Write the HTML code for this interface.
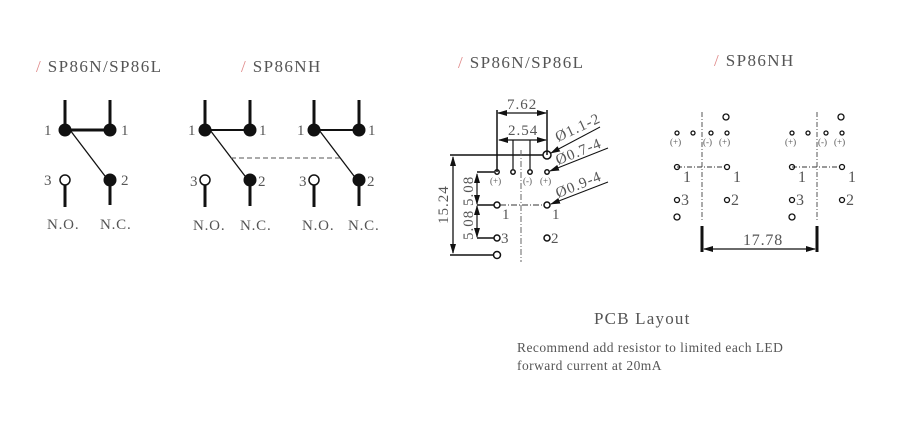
<!DOCTYPE html>
<html><head><meta charset="utf-8"><style>
html,body{margin:0;padding:0;background:#fff;}
svg{display:block;}
text{font-family:"Liberation Serif",serif;fill:#555;}
</style></head><body>
<svg width="900" height="433" viewBox="0 0 900 433" xmlns="http://www.w3.org/2000/svg">
<defs>
<marker id="ar" markerWidth="10" markerHeight="6" refX="9" refY="3" orient="auto-start-reverse" markerUnits="userSpaceOnUse"><path d="M0,0 L10,3 L0,6 z" fill="#111"/></marker>
</defs>
<!-- Titles -->
<g font-size="17" letter-spacing="1.4">
<text x="36" y="72"><tspan fill="#e08a8a">/ </tspan>SP86N/SP86L</text>
<text x="241" y="72"><tspan fill="#e08a8a">/ </tspan>SP86NH</text>
<text x="458" y="68"><tspan fill="#e08a8a">/ </tspan>SP86N/SP86L</text>
<text x="714" y="66"><tspan fill="#e08a8a">/ </tspan>SP86NH</text>
</g>

<!-- Left schematic -->
<g stroke="#111" fill="#111">
<line x1="65" y1="100" x2="65" y2="130" stroke-width="3"/>
<line x1="110" y1="100" x2="110" y2="130" stroke-width="3"/>
<line x1="65" y1="130" x2="110" y2="130" stroke-width="3"/>
<line x1="70" y1="130" x2="108" y2="180" stroke-width="1.3"/>
<circle cx="65" cy="130" r="6"/><circle cx="110" cy="130" r="6"/>
<circle cx="110" cy="180" r="6"/>
<line x1="110" y1="180" x2="110" y2="205" stroke-width="3"/>
<circle cx="65" cy="180" r="5" fill="#fff" stroke-width="1.5"/>
<line x1="65" y1="185" x2="65" y2="207" stroke-width="3"/>
</g>
<g font-size="15" letter-spacing="0.8">
<text x="44" y="135">1</text><text x="121" y="135">1</text>
<text x="44" y="185">3</text><text x="121" y="185">2</text>
<text x="47" y="229">N.O.</text><text x="100" y="229">N.C.</text>
</g>

<!-- SP86NH schematic -->
<g stroke="#111" fill="#111">
<g>
<line x1="205" y1="100" x2="205" y2="130" stroke-width="3"/>
<line x1="250" y1="100" x2="250" y2="130" stroke-width="3"/>
<line x1="205" y1="130" x2="250" y2="130" stroke-width="2"/>
<line x1="210" y1="130" x2="248" y2="180" stroke-width="1.3"/>
<circle cx="205" cy="130" r="6"/><circle cx="250" cy="130" r="6"/>
<circle cx="250" cy="180" r="6"/>
<line x1="250" y1="180" x2="250" y2="206" stroke-width="3"/>
<circle cx="205" cy="180" r="5" fill="#fff" stroke-width="1.5"/>
<line x1="205" y1="185" x2="205" y2="207" stroke-width="3"/>
</g>
<g transform="translate(109,0)">
<line x1="205" y1="100" x2="205" y2="130" stroke-width="3"/>
<line x1="250" y1="100" x2="250" y2="130" stroke-width="3"/>
<line x1="205" y1="130" x2="250" y2="130" stroke-width="2"/>
<line x1="210" y1="130" x2="248" y2="180" stroke-width="1.3"/>
<circle cx="205" cy="130" r="6"/><circle cx="250" cy="130" r="6"/>
<circle cx="250" cy="180" r="6"/>
<line x1="250" y1="180" x2="250" y2="206" stroke-width="3"/>
<circle cx="205" cy="180" r="5" fill="#fff" stroke-width="1.5"/>
<line x1="205" y1="185" x2="205" y2="207" stroke-width="3"/>
</g>
<line x1="231" y1="158" x2="340" y2="158" stroke-width="1" stroke="#555" stroke-dasharray="5,3"/>
</g>
<g font-size="15" letter-spacing="0.8">
<text x="188" y="135">1</text><text x="259" y="135">1</text>
<text x="297" y="135">1</text><text x="368" y="135">1</text>
<text x="190" y="186">3</text><text x="258" y="186">2</text>
<text x="299" y="186">3</text><text x="367" y="186">2</text>
<text x="193" y="230">N.O.</text><text x="240" y="230">N.C.</text>
<text x="302" y="230">N.O.</text><text x="348" y="230">N.C.</text>
</g>

<!-- PCB layout left -->
<g stroke="#111" fill="none" stroke-width="1.5">
<line x1="497" y1="110" x2="497" y2="172"/>
<line x1="547" y1="110" x2="547" y2="155"/>
<line x1="498" y1="113" x2="546" y2="113" marker-start="url(#ar)" marker-end="url(#ar)" stroke-width="1.2"/>
<line x1="499" y1="140" x2="546" y2="140" marker-start="url(#ar)" marker-end="url(#ar)" stroke-width="1.2"/>
<line x1="513" y1="140" x2="513" y2="169" stroke-width="1.2"/>
<line x1="530" y1="140" x2="530" y2="169" stroke-width="1.2"/>
<line x1="450" y1="155" x2="543" y2="155"/>
<line x1="450" y1="255" x2="493" y2="255"/>
<line x1="453" y1="157" x2="453" y2="253" marker-start="url(#ar)" marker-end="url(#ar)" stroke-width="1.3"/>
<line x1="477" y1="172" x2="494" y2="172"/>
<line x1="477" y1="205" x2="494" y2="205"/>
<line x1="477" y1="238" x2="494" y2="238"/>
<line x1="477" y1="174" x2="477" y2="204" marker-start="url(#ar)" marker-end="url(#ar)" stroke-width="1.2"/>
<line x1="477" y1="206" x2="477" y2="237" marker-start="url(#ar)" marker-end="url(#ar)" stroke-width="1.2"/>
<line x1="521" y1="150" x2="521" y2="262" stroke="#666" stroke-width="1" stroke-dasharray="6,2,1,2"/>
<line x1="500" y1="205" x2="544" y2="205" stroke="#333" stroke-width="1" stroke-dasharray="6,2,1,2"/>
<circle cx="547" cy="155" r="4"/>
<circle cx="497" cy="172" r="2.2"/><circle cx="513" cy="172" r="2.2"/>
<circle cx="530" cy="172" r="2.2"/><circle cx="547" cy="172" r="2.2"/>
<circle cx="497" cy="205" r="3"/><circle cx="547" cy="205" r="3"/>
<circle cx="497" cy="238" r="3"/><circle cx="547" cy="238" r="3"/>
<circle cx="497" cy="255" r="3.5"/>
<line x1="600" y1="127" x2="551" y2="153" marker-end="url(#ar)" stroke-width="1"/>
<line x1="608" y1="148" x2="550" y2="171" marker-end="url(#ar)" stroke-width="1"/>
<line x1="608" y1="182" x2="551" y2="204" marker-end="url(#ar)" stroke-width="1"/>
</g>
<g font-size="15" letter-spacing="1">
<text x="507" y="109">7.62</text>
<text x="508" y="135">2.54</text>
<text transform="translate(558,142) rotate(-25)">Ø1.1-2</text>
<text transform="translate(558,165) rotate(-22)">Ø0.7-4</text>
<text transform="translate(558,198) rotate(-22)">Ø0.9-4</text>
<text transform="translate(448,224) rotate(-90)">15.24</text>
<text transform="translate(473,206) rotate(-90)">5.08</text>
<text transform="translate(473,240) rotate(-90)">5.08</text>
<text x="502" y="219">1</text><text x="552" y="219">1</text>
<text x="501" y="243">3</text><text x="551" y="243">2</text>
</g>
<g font-size="9" fill="#888">
<text x="490" y="184" fill="#888">(+)</text>
<text x="523" y="184" fill="#888">(-)</text>
<text x="540" y="184" fill="#888">(+)</text>
</g>

<!-- PCB layout right -->
<g stroke="#111" fill="none" stroke-width="1.3">
<g>
<line x1="702" y1="112" x2="702" y2="222" stroke="#555" stroke-width="1" stroke-dasharray="5,2,1,2"/>
<line x1="677" y1="167" x2="727" y2="167" stroke="#333" stroke-width="1" stroke-dasharray="5,2,1,2"/>
<circle cx="726" cy="117" r="3"/>
<circle cx="677" cy="133" r="2"/><circle cx="693" cy="133" r="2"/>
<circle cx="711" cy="133" r="2"/><circle cx="727" cy="133" r="2"/>
<circle cx="677" cy="167" r="2.5"/><circle cx="727" cy="167" r="2.5"/>
<circle cx="677" cy="200" r="2.5"/><circle cx="727" cy="200" r="2.5"/>
<circle cx="677" cy="217" r="3"/>
</g>
<g transform="translate(115,0)">
<line x1="702" y1="112" x2="702" y2="222" stroke="#555" stroke-width="1" stroke-dasharray="5,2,1,2"/>
<line x1="677" y1="167" x2="727" y2="167" stroke="#333" stroke-width="1" stroke-dasharray="5,2,1,2"/>
<circle cx="726" cy="117" r="3"/>
<circle cx="677" cy="133" r="2"/><circle cx="693" cy="133" r="2"/>
<circle cx="711" cy="133" r="2"/><circle cx="727" cy="133" r="2"/>
<circle cx="677" cy="167" r="2.5"/><circle cx="727" cy="167" r="2.5"/>
<circle cx="677" cy="200" r="2.5"/><circle cx="727" cy="200" r="2.5"/>
<circle cx="677" cy="217" r="3"/>
</g>
<line x1="702" y1="226" x2="702" y2="252" stroke-width="3"/>
<line x1="817" y1="226" x2="817" y2="252" stroke-width="3"/>
<line x1="704" y1="249" x2="815" y2="249" marker-start="url(#ar)" marker-end="url(#ar)" stroke-width="1.2"/>
</g>
<g font-size="9" fill="#888">
<text x="670" y="145" fill="#888">(+)</text><text x="703" y="145" fill="#888">(-)</text><text x="719" y="145" fill="#888">(+)</text>
<text x="785" y="145" fill="#888">(+)</text><text x="818" y="145" fill="#888">(-)</text><text x="834" y="145" fill="#888">(+)</text>
</g>
<g font-size="16" letter-spacing="0.8">
<text x="683" y="182">1</text><text x="733" y="182">1</text>
<text x="798" y="182">1</text><text x="848" y="182">1</text>
<text x="681" y="205">3</text><text x="731" y="205">2</text>
<text x="796" y="205">3</text><text x="846" y="205">2</text>
<text x="743" y="245">17.78</text>
</g>

<text x="594" y="324" font-size="17" letter-spacing="1.2" fill="#333">PCB Layout</text>
<text x="517" y="352" font-size="13.5" letter-spacing="0.45" fill="#333">Recommend add resistor to limited each LED</text>
<text x="517" y="370" font-size="13.5" letter-spacing="0.45" fill="#333">forward current at 20mA</text>
</svg>
</body></html>
